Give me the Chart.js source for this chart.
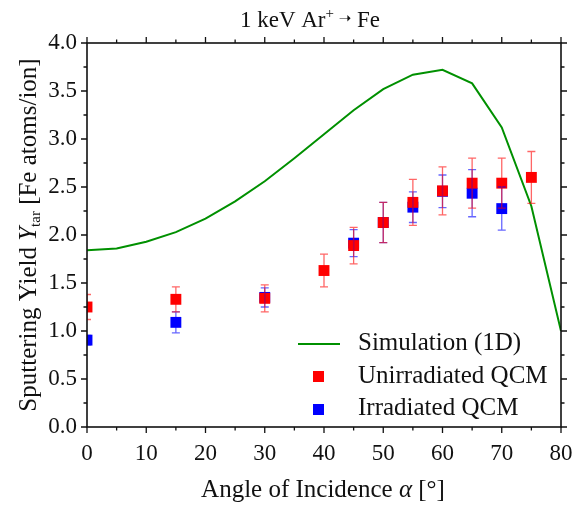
<!DOCTYPE html>
<html>
<head>
<meta charset="utf-8">
<script src="https://cdn.jsdelivr.net/npm/chart.js@4.4.1/dist/chart.umd.min.js"></script>
<style>
  html, body { margin: 0; padding: 0; background: #fff; }
  #wrap { width: 573px; height: 506px; }
</style>
</head>
<body>
<div id="wrap"><canvas id="yield-chart" width="573" height="506"></canvas></div>
<script>
// sputter yield vs. angle of incidence, 1 keV Ar+ on Fe
const simAngles = [0, 5, 10, 15, 20, 25, 30, 35, 40, 45, 50, 55, 60, 65, 70, 75, 80];
const simYield = [1.84, 1.86, 1.93, 2.03, 2.17, 2.35, 2.56, 2.80, 3.05, 3.30, 3.52, 3.67, 3.72, 3.58, 3.12, 2.30, 1.00];

const unirrAngles = [0, 15, 30, 40, 45, 50, 55, 60, 65, 70, 75];
const unirrYield = [1.25, 1.33, 1.34, 1.63, 1.89, 2.13, 2.34, 2.46, 2.54, 2.54, 2.60];
const unirrErr = [0.13, 0.13, 0.14, 0.17, 0.19, 0.21, 0.24, 0.25, 0.26, 0.26, 0.27];

const irrAngles = [0, 15, 30, 45, 50, 55, 60, 65, 70];
const irrYield = [0.905, 1.09, 1.35, 1.915, 2.13, 2.29, 2.455, 2.435, 2.275];
const irrErr = [0.05, 0.11, 0.10, 0.14, 0.21, 0.16, 0.17, 0.245, 0.225];

const xTicks = [0, 10, 20, 30, 40, 50, 60, 70, 80];
const yTicks = [0, 0.5, 1.0, 1.5, 2.0, 2.5, 3.0, 3.5, 4.0];

const SERIF = "'Liberation Serif', 'DejaVu Serif', serif";
const GREEN = '#009000';
const RED = '#ff0000';
const BLUE = '#0000ff';

function toPoints(xs, ys) {
    return xs.map((x, i) => ({ x: x, y: ys[i] }));
}

// draw a row of text pieces with different fonts / vertical shifts
function drawRuns(ctx, runs, x, y, align) {
    let total = 0;
    runs.forEach(r => { ctx.font = r.font; total += ctx.measureText(r.text).width; });
    let cx = align === 'center' ? x - total / 2 : x;
    ctx.textAlign = 'left';
    ctx.textBaseline = 'alphabetic';
    runs.forEach(r => {
        ctx.font = r.font;
        ctx.fillText(r.text, cx, y + (r.dy || 0));
        cx += ctx.measureText(r.text).width;
    });
}

const errorBars = {
    id: 'errorBars',
    afterDatasetsDraw(chart) {
        const ctx = chart.ctx;
        const a = chart.chartArea;
        const xs = chart.scales.x, ys = chart.scales.y;
        const sets = [
            { xs: irrAngles, ys: irrYield, err: irrErr, color: 'rgba(0,0,255,0.6)' },
            { xs: unirrAngles, ys: unirrYield, err: unirrErr, color: 'rgba(255,0,0,0.6)' },
        ];
        ctx.save();
        ctx.beginPath();
        ctx.rect(a.left, a.top, a.right - a.left, a.bottom - a.top);
        ctx.clip();
        ctx.lineWidth = 1.3;
        sets.forEach(s => {
            ctx.strokeStyle = s.color;
            s.xs.forEach((v, i) => {
                const px = xs.getPixelForValue(v);
                const top = ys.getPixelForValue(s.ys[i] + s.err[i]);
                const bot = ys.getPixelForValue(s.ys[i] - s.err[i]);
                ctx.beginPath();
                ctx.moveTo(px, top); ctx.lineTo(px, bot);
                ctx.moveTo(px - 4, top); ctx.lineTo(px + 4, top);
                ctx.moveTo(px - 4, bot); ctx.lineTo(px + 4, bot);
                ctx.stroke();
            });
        });
        ctx.restore();
    }
};

const frameAndText = {
    id: 'frameAndText',
    afterDraw(chart) {
        const ctx = chart.ctx;
        const a = chart.chartArea;
        const xs = chart.scales.x, ys = chart.scales.y;
        ctx.save();

        // box
        ctx.strokeStyle = '#111';
        ctx.lineWidth = 1.6;
        ctx.strokeRect(a.left, a.top, a.right - a.left, a.bottom - a.top);

        // ticks, pointing outward on all four sides
        ctx.lineWidth = 1.3;
        ctx.beginPath();
        for (let v = 0; v <= 80; v += 5) {
            const px = xs.getPixelForValue(v);
            const len = v % 10 === 0 ? 6 : 3.5;
            ctx.moveTo(px, a.bottom); ctx.lineTo(px, a.bottom + len);
            ctx.moveTo(px, a.top); ctx.lineTo(px, a.top - len);
        }
        for (let k = 0; k <= 16; k++) {
            const py = ys.getPixelForValue(k * 0.25);
            const len = k % 2 === 0 ? 6 : 3.5;
            ctx.moveTo(a.left, py); ctx.lineTo(a.left - len, py);
            ctx.moveTo(a.right, py); ctx.lineTo(a.right + len, py);
        }
        ctx.stroke();

        ctx.fillStyle = '#111';

        // title
        drawRuns(ctx, [
            { text: '1 keV Ar', font: '23px ' + SERIF },
            { text: '+', font: '15px ' + SERIF, dy: -9 },
            { text: ' \u279D', font: '15px DejaVu Sans', dy: -4 },
            { text: ' Fe', font: '23px ' + SERIF },
        ], 310, 27, 'center');

        // x axis title
        drawRuns(ctx, [
            { text: 'Angle of Incidence ', font: '25px ' + SERIF },
            { text: '\u03B1', font: 'italic 25px ' + SERIF },
            { text: ' [\u00B0]', font: '25px ' + SERIF },
        ], (a.left + a.right) / 2 - 1, 497, 'center');

        // y axis title
        ctx.save();
        ctx.translate(36, (a.top + a.bottom) / 2);
        ctx.rotate(-Math.PI / 2);
        drawRuns(ctx, [
            { text: 'Sputtering Yield ', font: '25px ' + SERIF },
            { text: 'Y', font: 'italic 25px ' + SERIF },
            { text: 'tar', font: '15px ' + SERIF, dy: 4 },
            { text: ' [Fe atoms/ion]', font: '25px ' + SERIF },
        ], 0, 0, 'center');
        ctx.restore();

        // legend
        const lx = a.right - 263, ly = a.bottom - 83;
        ctx.strokeStyle = GREEN;
        ctx.lineWidth = 2;
        ctx.beginPath();
        ctx.moveTo(lx, ly); ctx.lineTo(lx + 42, ly);
        ctx.stroke();
        ctx.fillStyle = RED;
        ctx.fillRect(lx + 15, ly + 27, 11, 11);
        ctx.fillStyle = BLUE;
        ctx.fillRect(lx + 15, ly + 60, 11, 11);
        ctx.fillStyle = '#111';
        ctx.font = '25px ' + SERIF;
        ctx.textAlign = 'left';
        ctx.textBaseline = 'alphabetic';
        ctx.fillText('Simulation (1D)', lx + 60, ly + 6);
        ctx.fillText('Unirradiated QCM', lx + 60, ly + 39);
        ctx.fillText('Irradiated QCM', lx + 60, ly + 71);

        ctx.restore();
    }
};

new Chart(document.getElementById('yield-chart'), {
    type: 'scatter',
    data: {
        datasets: [
            {
                label: 'Simulation (1D)',
                type: 'line',
                data: toPoints(simAngles, simYield),
                borderColor: GREEN,
                borderWidth: 2,
                pointRadius: 0,
                fill: false,
                tension: 0,
                clip: 0,
            },
            {
                label: 'Unirradiated QCM',
                data: toPoints(unirrAngles, unirrYield),
                backgroundColor: RED,
                borderWidth: 0,
                pointStyle: 'rect',
                pointRadius: 7.7,
                clip: 0,
            },
            {
                label: 'Irradiated QCM',
                data: toPoints(irrAngles, irrYield),
                backgroundColor: BLUE,
                borderWidth: 0,
                pointStyle: 'rect',
                pointRadius: 7.7,
                clip: 0,
            },
        ]
    },
    options: {
        responsive: false,
        animation: false,
        layout: { padding: { top: 43, right: 12, left: 0, bottom: 0 } },
        plugins: {
            legend: { display: false },
            tooltip: { enabled: false },
        },
        scales: {
            x: {
                type: 'linear',
                min: 0, max: 80,
                grid: { display: false },
                border: { display: false },
                afterBuildTicks: (scale) => { scale.ticks = xTicks.map(v => ({ value: v })); },
                afterFit: (scale) => {
                    scale.height = 79;
                    scale.paddingLeft = 0;
                    scale.paddingRight = 0;
                },
                ticks: {
                    color: '#111',
                    padding: 5,
                    maxRotation: 0,
                    font: { family: SERIF, size: 23 },
                },
            },
            y: {
                type: 'linear',
                min: 0, max: 4,
                grid: { display: false },
                border: { display: false },
                afterBuildTicks: (scale) => { scale.ticks = yTicks.map(v => ({ value: v })); },
                afterFit: (scale) => { scale.width = 87; },
                ticks: {
                    color: '#111',
                    padding: 2,
                    font: { family: SERIF, size: 23 },
                    callback: (v) => Number(v).toFixed(1),
                },
            },
        },
    },
    plugins: [errorBars, frameAndText],
});
</script>
</body>
</html>
